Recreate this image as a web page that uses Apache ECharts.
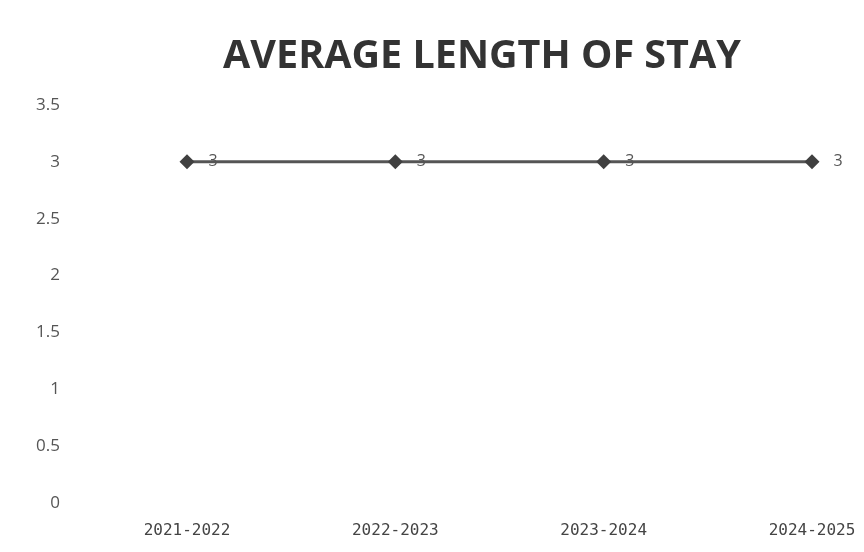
<!DOCTYPE html>
<html>
<head>
<meta charset="utf-8">
<script src="https://cdn.jsdelivr.net/npm/echarts@6/dist/echarts.min.js"></script>
<style>
  html, body { margin: 0; padding: 0; background: #ffffff; }
  #chart { width: 864px; height: 552px; }
</style>
</head>
<body>
<div id="chart"></div>
<script>
// Fiscal years on the category axis
const years = ['2021-2022', '2022-2023', '2023-2024', '2024-2025'];
// Average length of stay (days) per year
const avgStay = [3, 3, 3, 3];
// Value axis range and step
const yMin = 0;
const yMax = 3.5;
const yStep = 0.5;

const chart = echarts.init(document.getElementById('chart'), null, { renderer: 'canvas' });

chart.setOption({
  backgroundColor: '#ffffff',
  animation: false,
  title: {
    text: 'AVERAGE LENGTH OF STAY',
    left: 477,
    textAlign: 'center',
    top: 32,
    textStyle: {
      fontFamily: 'Open Sans',
      fontWeight: 'bold',
      fontSize: 39.5,
      color: '#333333'
    }
  },
  // grid edges sit on the first and last category points
  grid: {
    left: 187,
    top: 105,
    right: 52,
    bottom: 49,
    containLabel: false
  },
  xAxis: {
    type: 'category',
    data: years,
    boundaryGap: false,
    axisLine: { show: false },
    axisTick: { show: false },
    axisLabel: {
      margin: 20,
      fontFamily: 'DejaVu Sans Mono',
      fontSize: 16,
      color: '#444444'
    },
    splitLine: { show: false }
  },
  yAxis: {
    type: 'value',
    min: yMin,
    max: yMax,
    interval: yStep,
    axisLine: { show: false },
    axisTick: { show: false },
    axisLabel: {
      margin: 127,
      fontFamily: 'Open Sans',
      fontSize: 17,
      color: '#555555'
    },
    splitLine: { show: false }
  },
  series: [{
    type: 'line',
    data: avgStay,
    symbol: 'diamond',
    symbolSize: 15,
    lineStyle: { color: '#555555', width: 3 },
    itemStyle: { color: '#404040' },
    label: {
      show: true,
      position: 'right',
      distance: 14,
      fontFamily: 'Open Sans',
      fontSize: 16,
      color: '#555555'
    }
  }]
});
</script>
</body>
</html>
